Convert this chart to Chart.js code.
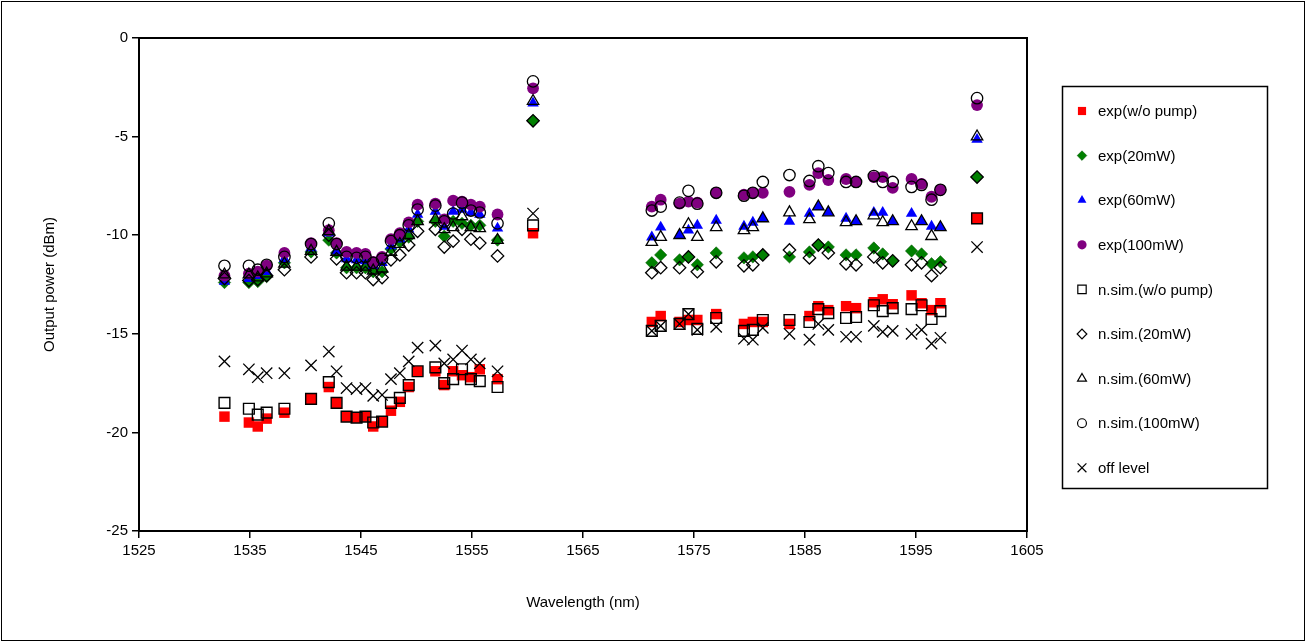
<!DOCTYPE html>
<html>
<head>
<meta charset="utf-8">
<script src="https://cdn.jsdelivr.net/npm/chart.js@4/dist/chart.umd.min.js"></script>
<style>
  body { margin: 0; background: #fff; }
  #wrap { width: 1307px; height: 643px; }
</style>
</head>
<body>
<div id="wrap"><canvas id="chart" width="1307" height="643"></canvas></div>
<script>
// wavelengths (nm) shared by all series
const wavelengths = [
  1532.7, 1534.9, 1535.7, 1536.5, 1538.1, 1540.5, 1542.1, 1542.8, 1543.7, 1544.6,
  1545.4, 1546.1, 1546.9, 1547.7, 1548.5, 1549.3, 1550.1, 1551.7, 1552.5, 1553.3,
  1554.1, 1554.9, 1555.7, 1557.3, 1560.5,
  1571.2, 1572.0, 1573.7, 1574.5, 1575.3, 1577.0, 1579.5, 1580.3, 1581.2, 1583.6,
  1585.4, 1586.2, 1587.1, 1588.7, 1589.6, 1591.2, 1592.0, 1592.9, 1594.6, 1595.5,
  1596.4, 1597.2, 1600.5
];

const expNoPump = [
  -19.2, -19.5, -19.7, -19.3, -19.0, -18.3, -17.7, -18.5, -19.2, -19.25,
  -19.2, -19.7, -19.45, -18.9, -18.45, -17.7, -16.9, -16.9, -17.6, -16.9,
  -17.1, -17.2, -16.8, -17.3, -9.9,
  -14.4, -14.1, -14.4, -14.3, -14.3, -14.0, -14.5, -14.4, -14.4, -14.5,
  -14.1, -13.6, -13.8, -13.6, -13.7, -13.4, -13.25, -13.5, -13.05, -13.45,
  -13.8, -13.45, -9.15
];
const exp20 = [
  -12.4, -12.4, -12.35, -12.1, -11.4, -10.85, -10.25, -10.9, -11.65, -11.65,
  -11.65, -11.85, -11.85, -10.7, -10.35, -10.1, -9.3, -9.3, -10.05, -9.3,
  -9.4, -9.5, -9.5, -10.25, -4.2,
  -11.4, -11.0, -11.25, -11.1, -11.5, -10.9, -11.15, -11.1, -11.0, -11.1,
  -10.85, -10.5, -10.6, -11.0, -11.0, -10.65, -10.95, -11.3, -10.8, -10.95,
  -11.45, -11.35, -7.05
];
const exp60 = [
  -12.35, -12.2, -12.05, -11.85, -11.2, -10.65, -9.9, -10.8, -11.2, -11.25,
  -11.3, -11.55, -11.4, -10.55, -10.2, -9.7, -8.95, -8.8, -9.55, -8.8,
  -8.7, -8.85, -8.95, -9.65, -3.3,
  -10.1, -9.6, -10.0, -9.75, -9.5, -9.25, -9.55, -9.35, -9.15, -9.3,
  -8.9, -8.55, -8.85, -9.15, -9.3, -8.85, -8.85, -9.3, -8.9, -9.3,
  -9.55, -9.6, -5.15
];
const exp100 = [
  -12.05, -11.95, -11.85, -11.55, -10.9, -10.4, -9.75, -10.4, -10.85, -10.9,
  -10.95, -11.35, -11.1, -10.2, -9.9, -9.35, -8.45, -8.4, -9.2, -8.25,
  -8.3, -8.45, -8.55, -8.95, -2.55,
  -8.55, -8.2, -8.4, -8.3, -8.35, -7.85, -7.95, -7.85, -7.85, -7.8,
  -7.45, -6.85, -7.2, -7.15, -7.3, -7.05, -7.05, -7.6, -7.15, -7.4,
  -8.05, -7.7, -3.4
];
const simNoPump = [
  -18.5, -18.8, -19.1, -19.0, -18.8, -18.3, -17.45, -18.5, -19.2, -19.25,
  -19.2, -19.5, -19.45, -18.5, -18.25, -17.6, -16.9, -16.7, -17.5, -17.3,
  -16.8, -17.3, -17.4, -17.7, -9.5,
  -14.85, -14.6, -14.5, -14.0, -14.75, -14.2, -14.85, -14.8, -14.3, -14.3,
  -14.4, -13.75, -13.95, -14.2, -14.15, -13.55, -13.85, -13.7, -13.75, -13.55,
  -14.25, -13.85, -9.15
];
const sim20 = [
  -12.2, -12.3, -12.25, -12.05, -11.75, -11.1, -10.0, -11.2, -11.9, -11.9,
  -11.9, -12.25, -12.15, -11.25, -11.0, -10.5, -9.8, -9.7, -10.6, -10.3,
  -9.7, -10.2, -10.4, -11.05, -4.2,
  -11.9, -11.65, -11.65, -11.1, -11.85, -11.35, -11.55, -11.5, -11.0, -10.75,
  -11.15, -10.5, -10.9, -11.45, -11.5, -11.1, -11.4, -11.3, -11.5, -11.4,
  -12.05, -11.65, -7.05
];
const sim60 = [
  -12.0, -12.0, -12.15, -11.95, -11.45, -10.8, -9.8, -10.85, -11.6, -11.6,
  -11.6, -11.8, -11.7, -10.85, -10.45, -10.0, -9.3, -9.2, -9.7, -9.6,
  -9.05, -9.6, -9.65, -10.25, -3.2,
  -10.35, -10.1, -10.0, -9.45, -10.1, -9.6, -9.75, -9.6, -9.15, -8.85,
  -9.2, -8.55, -8.85, -9.35, -9.3, -9.0, -9.35, -9.3, -9.55, -9.3,
  -10.05, -9.6, -5.0
];
const sim100 = [
  -11.55, -11.55, -11.75, -11.5, -11.1, -10.45, -9.4, -10.45, -11.1, -11.15,
  -11.1, -11.4, -11.2, -10.3, -10.0, -9.5, -8.7, -8.5, -9.3, -8.9,
  -8.35, -8.75, -8.85, -9.4, -2.2,
  -8.75, -8.55, -8.35, -7.75, -8.4, -7.85, -8.0, -7.85, -7.3, -6.95,
  -7.25, -6.5, -6.85, -7.3, -7.3, -7.0, -7.3, -7.3, -7.55, -7.45,
  -8.2, -7.7, -3.05
];
const offLevel = [
  -16.4, -16.8, -17.2, -17.0, -17.0, -16.6, -15.9, -16.9, -17.75, -17.8,
  -17.75, -18.15, -18.1, -17.3, -17.0, -16.4, -15.7, -15.6, -16.5, -16.3,
  -15.85, -16.3, -16.5, -16.9, -8.9,
  -14.85, -14.6, -14.5, -14.0, -14.8, -14.65, -15.25, -15.3, -14.7, -15.0,
  -15.3, -14.5, -14.8, -15.15, -15.15, -14.6, -14.9, -14.85, -15.0, -14.8,
  -15.5, -15.2, -10.6
];

const xTicks = [1525, 1535, 1545, 1555, 1565, 1575, 1585, 1595, 1605];
const yTicks = [0, -5, -10, -15, -20, -25];

const FONT = '"Liberation Sans", Arial, sans-serif';

const toPoints = (vals) => vals.map((v, i) => ({ x: wavelengths[i], y: v }));

const series = [
  { label: 'exp(w/o pump)', data: expNoPump, style: 'rect', r: 7.4, fill: '#ff0000', stroke: '#ff0000', bw: 0 },
  { label: 'exp(20mW)', data: exp20, style: 'rectRot', r: 6.2, fill: '#008000', stroke: '#005000', bw: 0.5 },
  { label: 'exp(60mW)', data: exp60, style: 'triangle', r: 6.6, fill: '#0000ff', stroke: '#0000ff', bw: 0 },
  { label: 'exp(100mW)', data: exp100, style: 'circle', r: 5.9, fill: '#800080', stroke: '#800080', bw: 0 },
  { label: 'n.sim.(w/o pump)', data: simNoPump, style: 'rect', r: 7.6, fill: 'rgba(0,0,0,0)', stroke: '#000', bw: 1.4 },
  { label: 'n.sim.(20mW)', data: sim20, style: 'rectRot', r: 6.2, fill: 'rgba(0,0,0,0)', stroke: '#000', bw: 1.3 },
  { label: 'n.sim.(60mW)', data: sim60, style: 'triangle', r: 6.6, fill: 'rgba(0,0,0,0)', stroke: '#000', bw: 1.3 },
  { label: 'n.sim.(100mW)', data: sim100, style: 'circle', r: 5.7, fill: 'rgba(0,0,0,0)', stroke: '#000', bw: 1.3 },
  { label: 'off level', data: offLevel, style: 'crossRot', r: 8, fill: '#000', stroke: '#000', bw: 1.3 }
];

const datasets = series.map((s, i) => ({
  label: s.label,
  data: toPoints(s.data),
  pointStyle: s.style,
  pointRadius: s.r,
  pointHoverRadius: s.r,
  backgroundColor: s.fill,
  borderColor: s.stroke,
  borderWidth: s.bw,
  order: series.length - i,
  showLine: false
}));

// plot frame, outer border and legend box
const framePlugin = {
  id: 'frame',
  beforeDatasetsDraw(chart) {
    const { ctx, chartArea: a } = chart;
    ctx.save();
    ctx.strokeStyle = '#000';
    ctx.lineWidth = 2;
    ctx.strokeRect(a.left, a.top, a.right - a.left, a.bottom - a.top);
    ctx.restore();
  },
  afterDraw(chart) {
    const ctx = chart.ctx;
    ctx.save();
    ctx.strokeStyle = '#000';
    ctx.lineWidth = 1;
    ctx.strokeRect(1.5, 1.5, 1303, 639);

    // legend
    const bx = 1062, by = 86, bw = 205, bh = 402;
    ctx.lineWidth = 1.5;
    ctx.strokeRect(bx + 0.5, by + 0.5, bw, bh);
    ctx.font = '15px ' + FONT;
    ctx.fillStyle = '#000';
    ctx.textBaseline = 'middle';
    series.forEach((s, i) => {
      const y = 111 + i * 44.6;
      ctx.save();
      ctx.fillStyle = s.fill;
      ctx.strokeStyle = s.stroke;
      ctx.lineWidth = s.bw ? Math.min(s.bw, 1.2) : 0.01;
      Chart.helpers.drawPoint(ctx, { pointStyle: s.style, radius: s.r * 0.78, rotation: 0, borderWidth: ctx.lineWidth }, 1082, y);
      ctx.restore();
      ctx.fillStyle = '#000';
      ctx.fillText(s.label, 1098, y + 1);
    });
    ctx.restore();
  }
};

new Chart(document.getElementById('chart'), {
  type: 'scatter',
  data: { datasets: datasets },
  options: {
    responsive: false,
    animation: false,
    events: [],
    layout: { padding: { left: 0, top: 38, right: 280, bottom: 0 } },
    plugins: {
      legend: { display: false },
      tooltip: { enabled: false }
    },
    scales: {
      x: {
        type: 'linear',
        min: 1525,
        max: 1605,
        afterFit: (scale) => { scale.height = 112; },
        afterBuildTicks: (scale) => { scale.ticks = xTicks.map(v => ({ value: v })); },
        ticks: { color: '#000', font: { family: FONT, size: 15 }, padding: 4, maxRotation: 0, callback: (v) => String(v) },
        grid: { drawOnChartArea: false, drawTicks: true, tickLength: 7, color: '#000', lineWidth: 1.5 },
        border: { display: true, color: '#000', width: 2 },
        title: { display: true, text: 'Wavelength (nm)', color: '#000', font: { family: FONT, size: 15 }, padding: { top: 31, bottom: 31 } }
      },
      y: {
        type: 'linear',
        min: -25,
        max: 0,
        afterFit: (scale) => { scale.width = 139; },
        afterBuildTicks: (scale) => { scale.ticks = yTicks.map(v => ({ value: v })); },
        ticks: { color: '#000', font: { family: FONT, size: 15 }, padding: 4, callback: (v) => String(v) },
        grid: { drawOnChartArea: false, drawTicks: true, tickLength: 7, color: '#000', lineWidth: 1.5 },
        border: { display: true, color: '#000', width: 2 },
        title: { display: true, text: 'Output power (dBm)', color: '#000', font: { family: FONT, size: 15 }, padding: { top: 41, bottom: 41 } }
      }
    }
  },
  plugins: [framePlugin]
});
</script>
</body>
</html>
